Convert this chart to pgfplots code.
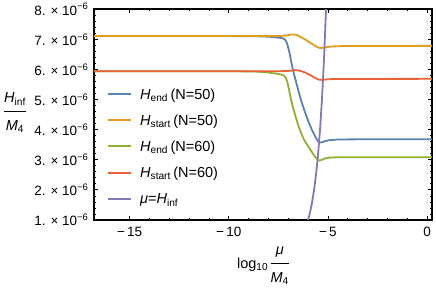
\documentclass[border=0pt]{standalone}
\usepackage{fontspec}
\setmainfont{Liberation Sans}
\usepackage{pgfplots}
\pgfplotsset{compat=1.18}
\definecolor{mblue}{rgb}{0.368417,0.506779,0.709798}
\definecolor{morange}{rgb}{0.880722,0.611041,0.142051}
\definecolor{mgreen}{rgb}{0.560181,0.691569,0.194885}
\definecolor{mred}{rgb}{0.922526,0.385626,0.209179}
\definecolor{mpurple}{rgb}{0.528488,0.470624,0.701351}
\newcommand{\frc}[2]{\begin{tabular}{@{}c@{}}\rule[-8.5pt]{0pt}{1pt}#1\\\hline\rule{0pt}{18.5pt}#2\end{tabular}}
\begin{document}
\begin{tikzpicture}
\useasboundingbox (-94pt,-71pt) rectangle (342pt,220pt);
\begin{axis}[
  at={(0pt,0pt)}, anchor=south west,
  scale only axis, width=338pt, height=210.7pt,
  xmin=-16.8, xmax=0.25, ymin=1, ymax=8,
  xtick={-15,-10,-5,0},
  xticklabels={−\,15,−\,10,−\,5,0},
  ytick={1,2,3,4,5,6,7,8},
  yticklabels={1. × 10\textsuperscript{−6},2. × 10\textsuperscript{−6},3. × 10\textsuperscript{−6},4. × 10\textsuperscript{−6},5. × 10\textsuperscript{−6},6. × 10\textsuperscript{−6},7. × 10\textsuperscript{−6},8. × 10\textsuperscript{−6}},
  minor x tick num=4, minor y tick num=4,
  tick align=inside, tick pos=both,
  major tick length=4pt, minor tick length=2pt,
  every tick/.style={black, line width=0.8pt},
  axis line style={line width=1.7pt},
  tick label style={font=\fontsize{13.5}{16}\selectfont},
  xticklabel style={yshift=-4pt},
  yticklabel style={xshift=-2pt},
  xlabel={log\textsubscript{10}\,\frc{\textit{μ}}{\textit{M}\textsubscript{4}}},
  ylabel={\frc{\textit{H}\textsubscript{inf}}{\textit{M}\textsubscript{4}}},
  every axis x label/.style={at={(axis description cs:0.5,0)}, anchor=center, yshift=-45pt, font=\fontsize{14.5}{17}\selectfont},
  every axis y label/.style={at={(axis description cs:0,0.507)}, anchor=center, xshift=-79pt, font=\fontsize{14.5}{17}\selectfont},
  legend style={at={(axis description cs:0,0.632)}, anchor=north west, xshift=13pt,
    draw=none, fill=none, inner sep=0pt, row sep=12.2pt,
    font=\fontsize{14.5}{17}\selectfont,
    nodes={inner sep=0pt, text height=12pt, text depth=2pt},
    /tikz/every odd column/.append style={column sep=8pt}},
  legend cell align=left,
  legend image code/.code={\draw[#1, line width=2pt] (0pt,0pt) -- (23pt,0pt);},
]
\addplot[mblue, line width=1.8pt] coordinates {(-16.8,7.11)(-10,7.11)(-9,7.105)(-8.3,7.1)(-7.8,7.08)(-7.5,7.06)(-7.3,7.04)(-7.17,7.0)(-7.08,6.9)(-7.0,6.72)(-6.92,6.5)(-6.84,6.22)(-6.75,5.95)(-6.66,5.72)(-6.58,5.52)(-6.45,5.2)(-6.33,4.92)(-6.15,4.57)(-5.99,4.28)(-5.8,3.98)(-5.64,3.77)(-5.52,3.63)(-5.43,3.57)(-5.3,3.585)(-5.15,3.62)(-4.9,3.655)(-4.5,3.675)(-3.5,3.68)(0.25,3.68)};
\addlegendentry{\textit{H}\textsubscript{end}\,(N=50)}
\addplot[morange, line width=1.8pt] coordinates {(-16.8,7.11)(-8,7.11)(-7.4,7.115)(-7.1,7.13)(-6.85,7.16)(-6.7,7.165)(-6.55,7.14)(-6.35,7.07)(-6.1,6.98)(-5.85,6.87)(-5.6,6.77)(-5.45,6.72)(-5.3,6.715)(-5.1,6.74)(-4.8,6.765)(-4.2,6.78)(0.25,6.785)};
\addlegendentry{\textit{H}\textsubscript{start}\,(N=50)}
\addplot[mgreen, line width=1.8pt] coordinates {(-16.8,5.94)(-9.5,5.94)(-8.6,5.93)(-8.1,5.91)(-7.7,5.87)(-7.4,5.84)(-7.22,5.8)(-7.12,5.72)(-7.04,5.57)(-6.96,5.32)(-6.88,5.06)(-6.78,4.78)(-6.65,4.48)(-6.5,4.15)(-6.35,3.88)(-6.2,3.66)(-6.0,3.45)(-5.8,3.25)(-5.62,3.07)(-5.5,3.0)(-5.42,2.975)(-5.3,3.0)(-5.15,3.045)(-4.9,3.075)(-4.4,3.085)(0.25,3.085)};
\addlegendentry{\textit{H}\textsubscript{end}\,(N=60)}
\addplot[mred, line width=1.8pt] coordinates {(-16.8,5.94)(-7.6,5.94)(-7.1,5.95)(-6.8,5.965)(-6.6,5.975)(-6.4,5.955)(-6.15,5.9)(-5.9,5.82)(-5.65,5.72)(-5.45,5.66)(-5.3,5.655)(-5.1,5.67)(-4.7,5.685)(0.25,5.69)};
\addlegendentry{\textit{H}\textsubscript{start}\,(N=60)}
\addplot[mpurple, line width=1.8pt] coordinates {(-6.1,0.794)(-6.0,1.0)(-5.9,1.259)(-5.8,1.585)(-5.7,1.995)(-5.6,2.512)(-5.5,3.162)(-5.4,3.981)(-5.3,5.012)(-5.2,6.310)(-5.1,7.943)(-5.0,10.0)};
\addlegendentry{\textit{μ}=\textit{H}\textsubscript{inf}}
\end{axis}
\end{tikzpicture}
\end{document}
